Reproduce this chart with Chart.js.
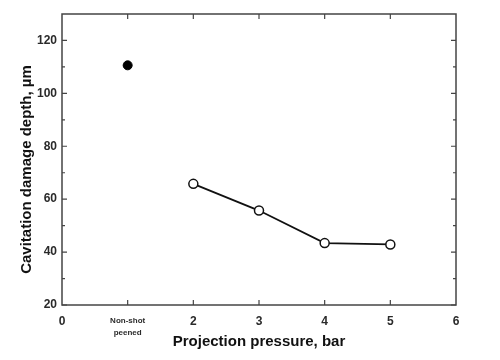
<!DOCTYPE html>
<html>
<head>
<meta charset="utf-8">
<script src="https://cdn.jsdelivr.net/npm/chart.js@4/dist/chart.umd.min.js"></script>
<style>
  html, body { margin: 0; padding: 0; background: #fff; }
  #wrap { width: 500px; height: 360px; }
</style>
</head>
<body>
<div id="wrap"><canvas id="chart"></canvas></div>
<script>
// values
const nonShotX = [1];
const nonShotDepth = [110.6];
const pressures = [2, 3, 4, 5];
const peenedDepth = [65.8, 55.7, 43.4, 42.9];
const yMajorTicks = [20, 40, 60, 80, 100, 120];
const yMinorTicks = [30, 50, 70, 90, 110];
const xTicks = [0, 1, 2, 3, 4, 5, 6];
const yTitle = 'Cavitation damage depth, µm';

const axisColor = '#444';
const labelColor = '#2a2a2a';
const fontFamily = 'Arial, "Liberation Sans"';

// box around the plot with inward tick marks, plus the y title
// (sits a bit below the middle of the axis in the original)
const frame = {
    id: 'frame',
    afterDraw(chart) {
        const { ctx, chartArea: a, scales } = chart;
        const x = scales.x, y = scales.y;
        ctx.save();
        ctx.strokeStyle = axisColor;
        ctx.lineWidth = 1.5;
        ctx.strokeRect(a.left, a.top, a.right - a.left, a.bottom - a.top);
        ctx.lineWidth = 1.2;
        ctx.beginPath();
        xTicks.forEach(v => {
            const px = x.getPixelForValue(v);
            if (px <= a.left + 1 || px >= a.right - 1) return;
            ctx.moveTo(px, a.bottom); ctx.lineTo(px, a.bottom - 5);
            ctx.moveTo(px, a.top); ctx.lineTo(px, a.top + 5);
        });
        yMajorTicks.forEach(v => {
            const py = y.getPixelForValue(v);
            ctx.moveTo(a.left, py); ctx.lineTo(a.left + 5, py);
            ctx.moveTo(a.right, py); ctx.lineTo(a.right - 5, py);
        });
        yMinorTicks.forEach(v => {
            const py = y.getPixelForValue(v);
            ctx.moveTo(a.left, py); ctx.lineTo(a.left + 3, py);
            ctx.moveTo(a.right, py); ctx.lineTo(a.right - 3, py);
        });
        ctx.stroke();

        ctx.translate(27, (a.top + a.bottom) / 2 + 10);
        ctx.rotate(-Math.PI / 2);
        ctx.fillStyle = '#111';
        ctx.font = 'bold 15px ' + fontFamily;
        ctx.textAlign = 'center';
        ctx.textBaseline = 'middle';
        ctx.fillText(yTitle, 0, 0);
        ctx.restore();
    }
};

new Chart(document.getElementById('chart'), {
    type: 'scatter',
    data: {
        datasets: [
            {
                label: 'Non-shot peened',
                data: nonShotX.map((v, i) => ({ x: v, y: nonShotDepth[i] })),
                backgroundColor: '#000',
                borderColor: '#000',
                pointRadius: 4.5,
                showLine: false
            },
            {
                label: 'Shot peened',
                data: pressures.map((v, i) => ({ x: v, y: peenedDepth[i] })),
                backgroundColor: '#fff',
                borderColor: '#111',
                borderWidth: 1.8,
                pointBorderWidth: 1.5,
                pointRadius: 4.5,
                showLine: true
            }
        ]
    },
    options: {
        responsive: true,
        maintainAspectRatio: false,
        animation: false,
        layout: { padding: { top: 14, right: 44, left: 0, bottom: 0 } },
        plugins: {
            legend: { display: false },
            tooltip: { enabled: false }
        },
        scales: {
            x: {
                type: 'linear',
                min: 0,
                max: 6,
                afterBuildTicks: s => { s.ticks = xTicks.map(v => ({ value: v })); },
                afterFit: s => { s.height = 55; },
                grid: { display: false, drawTicks: false },
                border: { display: false },
                ticks: {
                    padding: 9,
                    color: labelColor,
                    maxRotation: 0,
                    autoSkip: false,
                    font: c => (c.tick && c.tick.value === 1)
                        ? { family: fontFamily, size: 8, weight: 'bold', lineHeight: 1.6 }
                        : { family: fontFamily, size: 12, weight: 'bold' },
                    callback: v => v === 1 ? ['Non-shot', 'peened'] : String(v)
                },
                title: {
                    display: true,
                    text: 'Projection pressure, bar',
                    color: '#111',
                    font: { family: fontFamily, size: 15, weight: 'bold' },
                    padding: { top: 0, bottom: 9 }
                }
            },
            y: {
                min: 20,
                max: 130,
                afterBuildTicks: s => { s.ticks = yMajorTicks.map(v => ({ value: v })); },
                afterFit: s => { s.width = 62; },
                grid: { display: false, drawTicks: false },
                border: { display: false },
                ticks: {
                    padding: 5,
                    color: labelColor,
                    font: { family: fontFamily, size: 12, weight: 'bold' }
                }
            }
        }
    },
    plugins: [frame]
});
</script>
</body>
</html>
